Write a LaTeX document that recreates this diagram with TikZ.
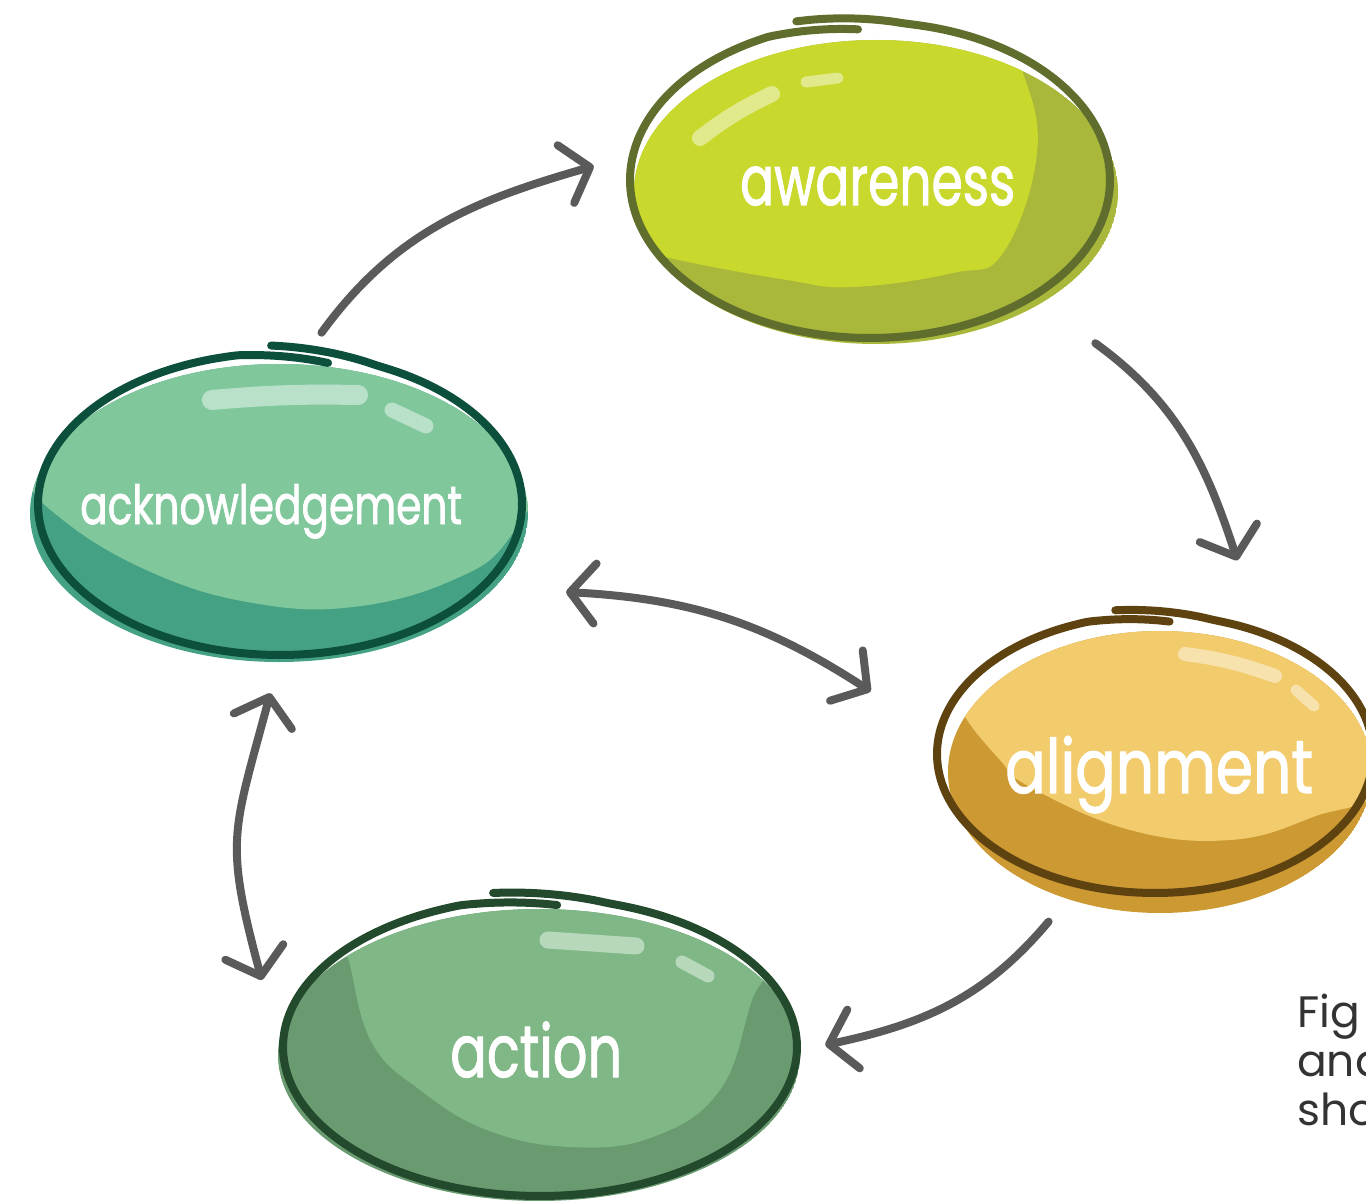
\documentclass[tikz,border=0pt]{standalone}
\usepackage{fontspec}
\usepackage{graphicx}
\setmainfont{Poppins}
\newfontfamily\handfont[FakeBold=1.6]{Poppins}
\usetikzlibrary{shapes.geometric,arrows.meta}
\definecolor{awlight}{HTML}{C8D82C}
\definecolor{awdark}{HTML}{A9B83A}
\definecolor{awline}{HTML}{5F6E2D}
\definecolor{acklight}{HTML}{80C79B}
\definecolor{ackdark}{HTML}{45A184}
\definecolor{ackline}{HTML}{0D4F3D}
\definecolor{allight}{HTML}{F2CB6C}
\definecolor{aldark}{HTML}{CC9933}
\definecolor{alline}{HTML}{5E4210}
\definecolor{aclight}{HTML}{7FB886}
\definecolor{acdark}{HTML}{6A9A70}
\definecolor{acline}{HTML}{234A2C}
\definecolor{arrowgray}{HTML}{5A5A5A}
\definecolor{captiongray}{HTML}{333333}
% hand-drawn ring: starts slightly inside, ends slightly outside, overlapping at the top
\newcommand\sketchring[6]{%
  \draw[ring, draw=#6] plot[smooth, samples=120, domain=#5:#5+374, variable=\t]
   ({#1+#3*(1-0.045*max(0,1-(\t-#5)/22)+0.05*max(0,(\t-#5-348)/26))*cos(\t)},
    {-#2+#4*(1-0.045*max(0,1-(\t-#5)/22)+0.05*max(0,(\t-#5-348)/26))*sin(\t)});}
\tikzset{
  >={Straight Barb[length=25pt,width=60pt,round]},
  blobnode/.style={ellipse, inner sep=0pt, draw=none},
  ring/.style={line width=8pt, line cap=round, line join=round},
  hl/.style={draw=white, draw opacity=0.45, line cap=round},
  conn/.style={line width=8pt, draw=arrowgray, line cap=round, ->},
  conntwo/.style={line width=8pt, draw=arrowgray, line cap=round, <->},
  lbl/.style={text=white, inner sep=0pt, anchor=base west},
  caption/.style={text=captiongray, inner sep=0pt, anchor=base west, font=\fontsize{44}{49}\selectfont}
}
\begin{document}
\begin{tikzpicture}[x=1pt,y=1pt]
\useasboundingbox (0,0) rectangle (1366,-1201);
\clip (0,0) rectangle (1366,-1201);
% ---------- awareness ----------
\begin{scope}
\clip (876,-192) ellipse [x radius=242pt, y radius=152pt];
\fill[awdark] (876,-192) ellipse [x radius=242pt, y radius=152pt];
\fill[awlight] plot[smooth cycle, tension=0.7] coordinates {(615,-240) (670,-258) (787,-280) (853,-287) (953,-273) (1003,-253) (1037,-153) (1022,-70) (990,-10) (700,-10) (612,-120)};
\end{scope}
\draw[hl, line width=16pt] (700,-138) to[bend left=6] (772,-94);
\draw[hl, line width=11pt] (806,-82) -- (838,-78);
\sketchring{870}{180}{240}{158}{93}{awline}
\node[blobnode, minimum width=480pt, minimum height=316pt] (aw) at (870,-180) {};
\node[lbl] (awT) at (740,-205) {\resizebox{275pt}{\height}{\handfont\fontsize{69}{69}\selectfont awareness}};
% ---------- acknowledgement ----------
\begin{scope}
\clip (279,-513) ellipse [x radius=249pt, y radius=149pt];
\fill[ackdark] (279,-513) ellipse [x radius=249pt, y radius=149pt];
\fill[acklight] plot[smooth cycle, tension=0.7] coordinates {(25,-470) (63,-520) (153,-573) (253,-603) (353,-607) (453,-580) (510,-537) (545,-450) (520,-320) (280,-310) (25,-380)};
\end{scope}
\draw[hl, line width=20pt] (212,-400) to[bend left=3] (358,-395);
\draw[hl, line width=15pt] (392,-410) -- (426,-426);
\sketchring{280}{504}{242}{151}{78}{ackline}
\node[blobnode, minimum width=484pt, minimum height=302pt] (ack) at (280,-504) {};
\node[lbl] (ackT) at (80,-524) {\resizebox{382pt}{\height}{\handfont\fontsize{54}{54}\selectfont acknowledgement}};
% ---------- alignment ----------
\begin{scope}
\clip (1160,-772) ellipse [x radius=212pt, y radius=141pt];
\fill[aldark] (1160,-772) ellipse [x radius=212pt, y radius=141pt];
\fill[allight] plot[smooth cycle, tension=0.7] coordinates {(962,-712) (1000,-760) (1030,-787) (1130,-830) (1230,-840) (1313,-817) (1385,-780) (1400,-650) (1200,-600) (1000,-610) (940,-660)};
\end{scope}
\draw[hl, line width=14pt] (1185,-654) to[bend left=6] (1275,-676);
\draw[hl, line width=11pt] (1296,-690) -- (1314,-706);
\sketchring{1155}{754}{218}{139}{86}{alline}
\node[blobnode, minimum width=436pt, minimum height=278pt] (al) at (1155,-754) {};
\node[lbl] (alT) at (1005,-793) {\resizebox{308pt}{\height}{\handfont\fontsize{75}{75}\selectfont alignment}};
% ---------- action ----------
\begin{scope}
\clip (539,-1055) ellipse [x radius=261pt, y radius=146pt];
\fill[acdark] (539,-1055) ellipse [x radius=261pt, y radius=146pt];
\fill[aclight] plot[smooth cycle, tension=0.7] coordinates {(345,-935) (350,-965) (372,-1043) (420,-1090) (487,-1130) (570,-1147) (653,-1137) (720,-1090) (752,-1000) (775,-930) (600,-880) (400,-890)};
\end{scope}
\draw[hl, line width=17pt] (548,-940) -- (636,-946);
\draw[hl, line width=13pt] (682,-962) -- (708,-976);
\sketchring{540}{1047}{257}{149}{86}{acline}
\node[blobnode, minimum width=514pt, minimum height=298pt] (ac) at (540,-1047) {};
\node[lbl] (acT) at (450,-1077) {\resizebox{172pt}{\height}{\handfont\fontsize{73}{73}\selectfont action}};
% ---------- connectors (ends offset from the blobs' borders) ----------
\draw[conn] ([xshift=15pt, yshift=21pt]ack.80) to[out=54, in=196] ([xshift=-39pt, yshift=-11pt]aw.174);
\draw[conn] ([xshift=64pt, yshift=-46pt]aw.-36) to[out=-36, in=108] ([xshift=-15pt, yshift=69pt]al.52);
\draw[conntwo] ([xshift=74pt, yshift=-15pt]ack.-19) to[out=-3, in=147] ([xshift=-69pt, yshift=40pt]al.174);
\draw[conn] ([xshift=-31pt, yshift=-37pt]al.240) to[out=230, in=12] ([xshift=28pt, yshift=2pt]ac.east);
\draw[conntwo] ([xshift=-7pt, yshift=-38pt]ack.269) to[out=255, in=105, looseness=1.3] ([xshift=-21pt, yshift=67pt]ac.west);
% ---------- caption (cut by the page edge, as in the source) ----------
\node[caption, align=left] (cap) at (1297,-1125) {Fig\\and\\sho};
\end{tikzpicture}
\end{document}
